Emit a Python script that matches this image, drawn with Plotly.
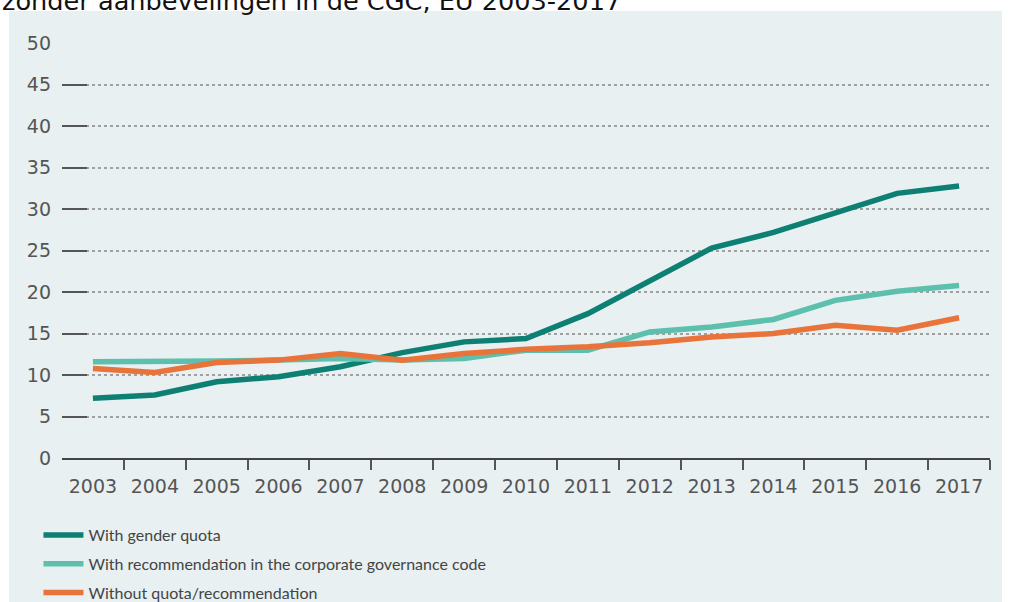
import plotly.graph_objects as go

years = list(range(2003, 2018))
year_labels = [str(y) for y in years]

with_quota = [7.2, 7.6, 9.2, 9.8, 11.0, 12.7, 14.0, 14.4, 17.4, 21.4, 25.3, 27.2, 29.5, 31.9, 32.8]
with_recommendation = [11.6, 11.6, 11.7, 11.8, 12.0, 11.8, 12.0, 13.0, 13.0, 15.2, 15.8, 16.7, 19.0, 20.1, 20.8]
without = [10.8, 10.3, 11.5, 11.8, 12.6, 11.8, 12.6, 13.1, 13.4, 13.9, 14.6, 15.0, 16.0, 15.4, 16.9]

series_names = [
    "With gender quota",
    "With recommendation in the corporate governance code",
    "Without quota/recommendation",
]
series_colors = ["#0e7f73", "#5cc0ad", "#e8743b"]
series_values = [with_quota, with_recommendation, without]

y_ticks = [0, 5, 10, 15, 20, 25, 30, 35, 40, 45, 50]

title_text = "zonder aanbevelingen in de CGC, EU 2003-2017"

fig = go.Figure()
for i, (name, vals, col) in enumerate(zip(series_names, series_values, series_colors)):
    fig.add_trace(go.Scatter(
        x=years, y=vals, mode="lines", name=name,
        line=dict(color=col, width=5.5),
        legendgroup=f"g{i}",
    ))

# panel background
fig.add_shape(type="rect", xref="paper", yref="paper",
              x0=-0.0571, x1=1.0129, y0=-0.347, y1=1.0771,
              fillcolor="#e8f0f2", line=dict(width=0), layer="below")

fig.add_annotation(text=title_text, xref="paper", yref="paper",
                   x=-0.0668, y=1.0602, xanchor="left", yanchor="bottom",
                   showarrow=False, font=dict(family="DejaVu Sans", size=25.6, color="#111"))

fig.update_layout(
    width=1012, height=602,
    margin=dict(l=62, r=22, t=43, b=144, autoexpand=False),
    paper_bgcolor="white",
    plot_bgcolor="rgba(0,0,0,0)",
    showlegend=True,
    legend=dict(
        xref="container", yref="container",
        x=0.038, y=0.1395, xanchor="left", yanchor="top",
        bgcolor="rgba(0,0,0,0)", tracegroupgap=5,
        font=dict(family="Lato", size=16, color="#444"),
        itemwidth=40,
    ),
    xaxis=dict(
        range=[2002.5, 2017.5],
        tickmode="array", tickvals=years, ticktext=year_labels,
        tickangle=0,
        ticks="outside", ticklen=10, tickcolor="rgba(0,0,0,0)",
        showgrid=False, zeroline=False,
        showline=True, linecolor="#444", linewidth=2,
        tickfont=dict(family="DejaVu Sans", size=19, color="#555"),
        minor=dict(ticks="outside", tickmode="array",
                   tickvals=[y + 0.5 for y in years],
                   ticklen=10, tickwidth=2, tickcolor="#555", showgrid=False),
        fixedrange=True,
    ),
    yaxis=dict(
        range=[0, 50.03],
        tickmode="array", tickvals=y_ticks,
        ticks="inside", ticklen=25, tickwidth=2, tickcolor="#555",
        showgrid=True, gridcolor="#a0a0a0", griddash="dot", gridwidth=1.5,
        zeroline=False, showline=False,
        tickfont=dict(family="DejaVu Sans", size=19, color="#555"),
        ticklabelstandoff=10,
        fixedrange=True,
    ),
)

fig.write_html("out.html", config={"displayModeBar": False},
               post_script="document.body.style.margin='0';")
